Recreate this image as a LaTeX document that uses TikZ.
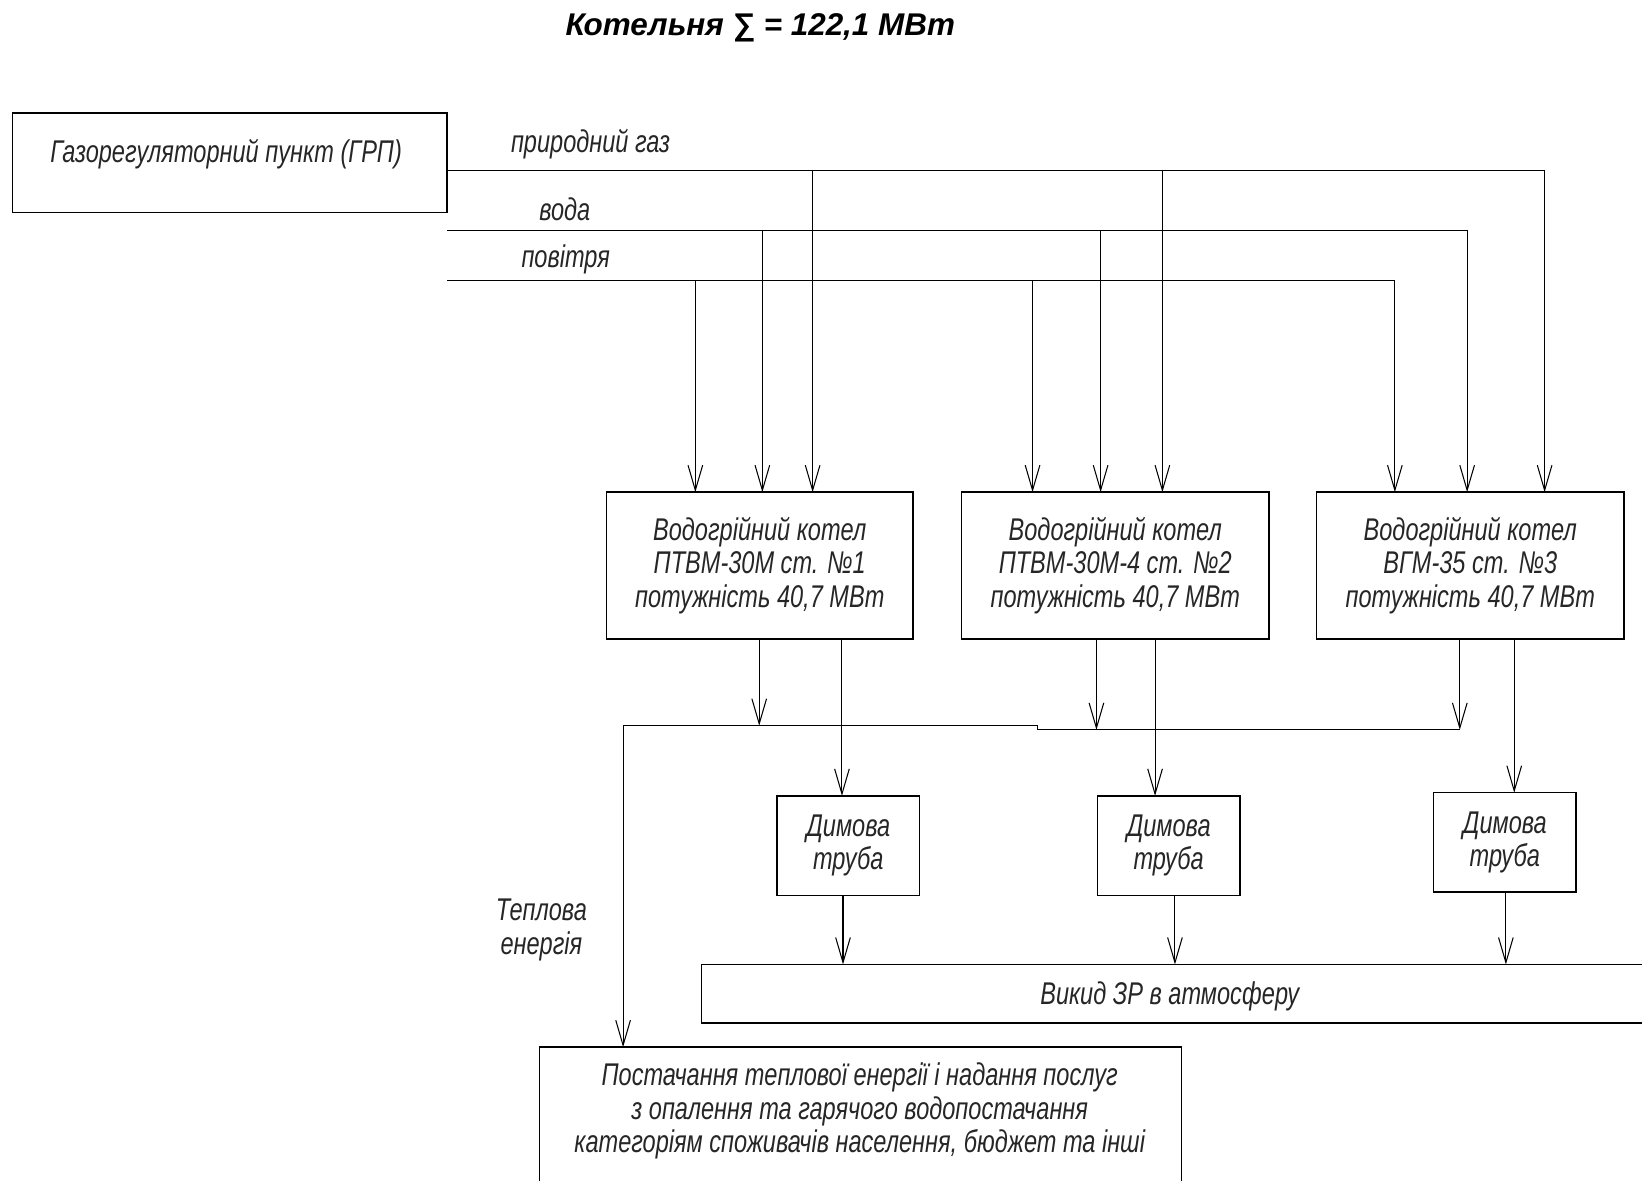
\documentclass[tikz,border=0pt]{standalone}
\usepackage{fontspec}
\setmainfont{Liberation Sans}
\newfontfamily\gost[FakeStretch=0.75]{Liberation Sans}
\usetikzlibrary{arrows.meta}
\begin{document}
\begin{tikzpicture}[x=0.5pt,y=-0.5pt,
  every node/.style={inner sep=0pt,outer sep=0pt},
  txt/.style={font=\gost\itshape\fontsize{15}{16}\selectfont,align=center,text=black!85},
  box/.style={draw,line width=0.7pt},
  ln/.style={line width=0.5pt},
  arr/.style={line width=0.5pt,-{Straight Barb[length=12pt,width=7pt,line width=0.5pt]}}]
\useasboundingbox (0,0) rectangle (1568,1127);
% title
\node[font=\bfseries\itshape\fontsize{15}{17}\selectfont] (title) at (726,27) {Котельня ∑ = 122,1 МВт};
% GRP
\node[box,minimum width=207.5pt,minimum height=47.5pt] (grp) at (219.5,155.5) {};
\node[txt] (grpt) at (216,147) {Газорегуляторний пункт (ГРП)};
% boilers
\node[box,minimum width=146.5pt,minimum height=70pt,txt] (b1) at (725.5,540) {Водогрійний котел\\ПТВМ-30М ст. №1\\потужність 40,7 МВт};
\node[box,minimum width=147pt,minimum height=70pt,txt] (b2) at (1065,540) {Водогрійний котел\\ПТВМ-30М-4 ст. №2\\потужність 40,7 МВт};
\node[box,minimum width=147pt,minimum height=70pt,txt] (b3) at (1404,540) {Водогрійний котел\\ВГМ-35 ст. №3\\потужність 40,7 МВт};
% chimneys
\node[box,minimum width=68pt,minimum height=47.5pt,txt] (c1) at (810,807.5) {Димова\\труба};
\node[box,minimum width=68pt,minimum height=47.5pt,txt] (c2) at (1116,807.5) {Димова\\труба};
\node[box,minimum width=68pt,minimum height=47.5pt,txt] (c3) at (1437,804.5) {Димова\\труба};
% emission
\node[box,minimum width=452pt,minimum height=28pt] (em) at (1122,949) {};
\node[txt] (emt) at (1117,951) {Викид ЗР в атмосферу};
% supply
\node[box,minimum width=306.5pt,minimum height=70pt] (sup) at (821.5,1070) {};
\node[txt] (supt) at (821,1061) {Постачання теплової енергії і надання послуг\\з опалення та гарячого водопостачання\\категоріям споживачів населення, бюджет та інші};
% labels
\node[txt,anchor=west] (lgas) at (488,138) {природний газ};
\node[txt,anchor=west] (lwat) at (515,200) {вода};
\node[txt,anchor=west] (lair) at (498,248) {повітря};
\node[txt] (lheat) at (517,888) {Теплова\\енергія};
% start coordinates
\coordinate (g0) at (grp.east |- 0,163);
\coordinate (w0) at (grp.east |- 0,220);
\coordinate (a0) at (grp.east |- 0,268);
% gas
\draw[arr] (g0) -| (1475,0 |- b3.north);
\draw[arr] (776,163) -- (776,0 |- b1.north);
\draw[arr] (1110,163) -- (1110,0 |- b2.north);
% water
\draw[arr] (w0) -| (1401,0 |- b3.north);
\draw[arr] (728,220) -- (728,0 |- b1.north);
\draw[arr] (1051,220) -- (1051,0 |- b2.north);
% air
\draw[arr] (a0) -| (1332,0 |- b3.north);
\draw[arr] (664,268) -- (664,0 |- b1.north);
\draw[arr] (986,268) -- (986,0 |- b2.north);
% heat collector
\coordinate (h1) at (725,693);
\coordinate (h2) at (1047,697);
\coordinate (h3) at (1394,697);
\draw[ln] (h3) -- (991,697) -- (991,693) -- (595,693);
\draw[arr] (595,693) -- (595,0 |- sup.north);
\draw[arr] (725,0 |- b1.south) -- (h1);
\draw[arr] (1047,0 |- b2.south) -- (h2);
\draw[arr] (1394,0 |- b3.south) -- (h3);
% to chimneys
\draw[arr] (804,0 |- b1.south) -- (804,0 |- c1.north);
\draw[arr] (1103,0 |- b2.south) -- (1103,0 |- c2.north);
\draw[arr] (1446,0 |- b3.south) -- (1446,0 |- c3.north);
% to atmosphere
\draw[arr] (805,0 |- c1.south) -- (805,0 |- em.north);
\draw[arr] (1122,0 |- c2.south) -- (1122,0 |- em.north);
\draw[arr] (1438,0 |- c3.south) -- (1438,0 |- em.north);
\end{tikzpicture}
\end{document}
